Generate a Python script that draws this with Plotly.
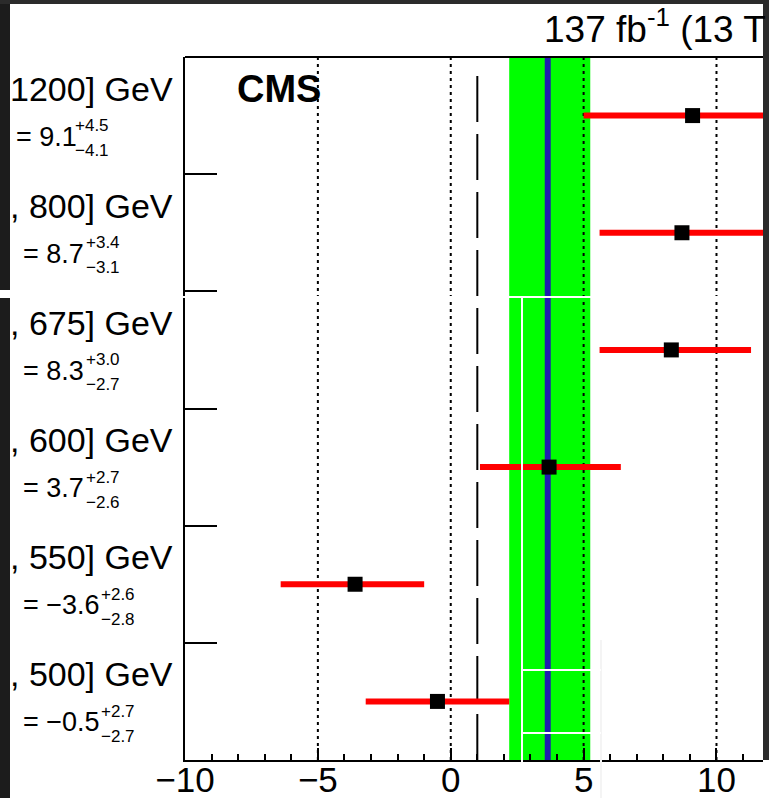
import plotly.graph_objects as go

# Per-bin signal strengths (bottom row first)
bin_text = [", 500] GeV", ", 550] GeV", ", 600] GeV", ", 675] GeV", ", 800] GeV", "1200] GeV"]
mu = [-0.5, -3.6, 3.7, 8.3, 8.7, 9.1]
err_up = [2.7, 2.6, 2.7, 3.0, 3.4, 4.5]
err_dn = [2.7, 2.8, 2.6, 2.7, 3.1, 4.1]
rows = list(range(len(mu)))

# Combined fit and SM reference
comb_mu = 3.65
comb_lo = 2.2
comb_hi = 5.25
sm_mu = 1.0

x_ticks = [-10, -5, 0, 5, 10]
grid_x = [-5, 0, 5, 10]

W, H = 769, 798
L, R, T, B = 185, 6, 57, 38
PW, PH = W - L - R, H - T - B
FONT = "Liberation Sans, Arial, Helvetica, sans-serif"

# Helvetica advance widths (em) used to place the stacked exponents
ADV = {"=": 0.584, " ": 0.278, ".": 0.278, "\u2212": 0.584}
RIGHT_BEARING = {"1": 0.18}


def ink_width(text, size):
    w = sum(ADV.get(c, 0.556) for c in text)
    w -= RIGHT_BEARING.get(text[-1], 0.04)
    return w * size


def px_x(px):
    return (px - L) / PW


def px_y(py):
    return 1 - (py - T) / PH


def fmt(v, nd=1):
    s = f"{abs(v):.{nd}f}"
    return ("\u2212" + s) if v < 0 else s


fig = go.Figure()

fig.add_trace(go.Scatter(
    x=mu, y=rows, mode="markers",
    marker=dict(symbol="square", size=15, color="black"),
    error_x=dict(type="data", symmetric=False, array=err_up, arrayminus=err_dn,
                 color="#ff0000", thickness=6, width=0),
    showlegend=False, hoverinfo="skip",
))

shapes = []
# combined uncertainty band and central value
shapes.append(dict(type="rect", xref="x", yref="paper", x0=comb_lo, x1=comb_hi, y0=0, y1=1,
                   fillcolor="#00ff00", line=dict(width=0), layer="below"))
shapes.append(dict(type="line", xref="x", yref="paper", x0=comb_mu, x1=comb_mu, y0=0, y1=1,
                   line=dict(color="#1f1fb0", width=6), layer="below"))
# dotted reference lines
for gx in grid_x:
    shapes.append(dict(type="line", xref="x", yref="paper", x0=gx, x1=gx, y0=0, y1=1,
                       line=dict(color="black", width=2, dash="3px,4px"), layer="below"))
# SM expectation
shapes.append(dict(type="line", xref="x", yref="paper", x0=sm_mu, x1=sm_mu, y0=0, y1=px_y(70),
                   line=dict(color="black", width=2, dash="46px,12px"), layer="below"))
# top frame line
shapes.append(dict(type="line", xref="paper", yref="paper", x0=0, x1=1, y0=1, y1=1,
                   line=dict(color="black", width=2), layer="above"))


# screen borders and tile seams
def rect(x0, y0, x1, y1, color):
    return dict(type="rect", xref="paper", yref="paper",
                x0=px_x(x0), x1=px_x(x1), y0=px_y(y1), y1=px_y(y0),
                fillcolor=color, line=dict(width=0), layer="above")


shapes.append(rect(0, 0, 10, 798, "#1c1c1c"))
shapes.append(rect(763, 0, 769, 760, "#2b2b2b"))
shapes.append(rect(0, 0, 769, 4, "#2b2b2b"))
shapes.append(rect(0, 290, 10, 298, "#ffffff"))
shapes.append(rect(0, 296, 763, 298, "#ffffff"))
shapes.append(rect(521, 298, 523, 798, "#ffffff"))
shapes.append(rect(600, 640, 602, 798, "#f4f4f4"))
shapes.append(rect(523, 669, 601, 671, "#ffffff"))
shapes.append(rect(523, 732, 601, 734, "#ffffff"))

VAL_SIZE = 27
ERR_SIZE = 17
annotations = []
top = rows[-1]
for i in rows:
    x_val = 15 if i == top else 22
    val_txt = f"= {fmt(mu[i])}"
    x_err = x_val + 1 + ink_width(val_txt, VAL_SIZE) + 2
    annotations.append(dict(
        xref="paper", yref="y", x=px_x(174), y=i, yshift=27,
        xanchor="right", yanchor="middle", showarrow=False, borderpad=0,
        text=bin_text[i],
        font=dict(family=FONT, size=34, color="black")))
    annotations.append(dict(
        xref="paper", yref="y", x=px_x(x_val), y=i, yshift=-21,
        xanchor="left", yanchor="middle", showarrow=False, borderpad=0,
        text=val_txt,
        font=dict(family=FONT, size=VAL_SIZE, color="black")))
    annotations.append(dict(
        xref="paper", yref="y", x=px_x(x_err), y=i, yshift=-10,
        xanchor="left", yanchor="middle", showarrow=False, borderpad=0,
        text=f"+{err_up[i]:.1f}",
        font=dict(family=FONT, size=ERR_SIZE, color="black")))
    annotations.append(dict(
        xref="paper", yref="y", x=px_x(x_err), y=i, yshift=-35,
        xanchor="left", yanchor="middle", showarrow=False, borderpad=0,
        text=f"\u2212{err_dn[i]:.1f}",
        font=dict(family=FONT, size=ERR_SIZE, color="black")))

annotations.append(dict(
    xref="paper", yref="paper", x=px_x(236), y=px_y(89),
    xanchor="left", yanchor="middle", showarrow=False, borderpad=0,
    text="<b>CMS</b>", font=dict(family=FONT, size=38, color="black")))
annotations.append(dict(
    xref="paper", yref="paper", x=px_x(543), y=px_y(27),
    xanchor="left", yanchor="middle", showarrow=False, borderpad=0,
    text="137 fb<sup>-1</sup> (13 T", font=dict(family=FONT, size=37, color="black")))

fig.update_layout(
    width=W, height=H,
    margin=dict(l=L, r=R, t=T, b=B, pad=0, autoexpand=False),
    paper_bgcolor="white", plot_bgcolor="white",
    shapes=shapes, annotations=annotations,
    xaxis=dict(
        range=[-10, 11.75], showgrid=False, zeroline=False, automargin=False,
        showline=True, linecolor="black", linewidth=2,
        ticks="inside", tickvals=x_ticks, ticktext=[fmt(v, 0) for v in x_ticks],
        ticklen=12, tickwidth=2, tickcolor="black", ticklabelstandoff=-12,
        minor=dict(dtick=1, ticks="inside", ticklen=6, tickwidth=2, tickcolor="black", showgrid=False),
        tickfont=dict(family=FONT, size=35, color="black"),
    ),
    yaxis=dict(
        range=[-0.5, 5.5], showgrid=False, zeroline=False, automargin=False,
        showline=True, linecolor="black", linewidth=2,
        ticks="inside", tickvals=[r + 0.5 for r in rows[:-1]],
        ticklen=32, tickwidth=2, tickcolor="black", showticklabels=False,
    ),
)

fig.write_html("out.html")
